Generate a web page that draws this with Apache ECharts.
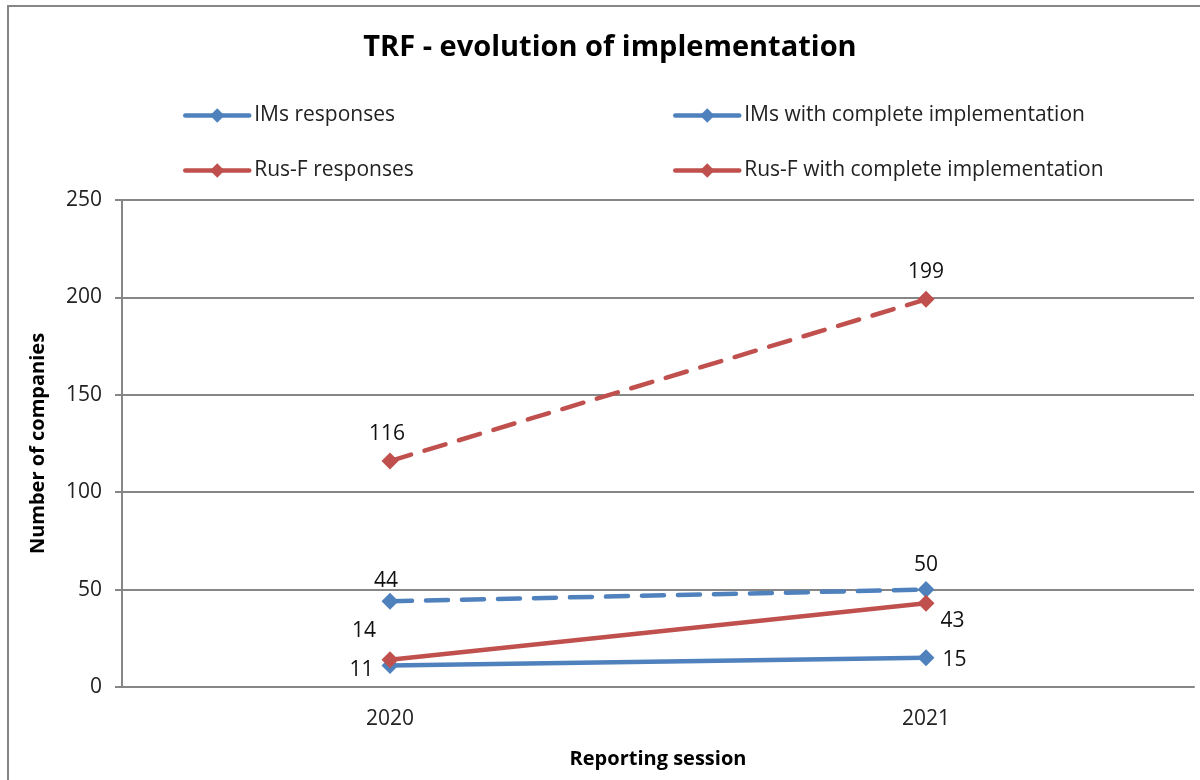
<!DOCTYPE html>
<html>
<head>
<meta charset="utf-8">
<script src="https://cdn.jsdelivr.net/npm/echarts@6/dist/echarts.min.js"></script>
<style>
  html, body { margin: 0; padding: 0; background: #fff; }
  #main { width: 1200px; height: 780px; }
</style>
</head>
<body>
<div id="main"></div>
<script>
// data
const sessions = ["2020", "2021"];
const imsResponses = [44, 50];
const imsComplete = [11, 15];
const rusResponses = [116, 199];
const rusComplete = [14, 43];
const yTicks = { min: 0, max: 250, interval: 50 };

const BLUE = "#4F81BD";
const RED = "#C0504D";
const FONT = "Open Sans";

let chart = echarts.init(document.getElementById("main"));

// per-point label placement like the original
const labelPlaces = [
    [{ position: "top", distance: 1, offset: [-4, 0] }, { position: "top", distance: 6 }],
    [{ position: "left", distance: 8, offset: [0, 4] }, { position: "right", distance: 8, offset: [0, 2] }],
    [{ position: "top", distance: 8, offset: [-3, 0] }, { position: "top", distance: 8 }],
    [{ position: "top", distance: 10, offset: [-26, 0] }, { position: "right", distance: 6, offset: [0, 18] }]
];

function lineSeries(name, data, color, dashed, places) {
    return {
        name: name,
        type: "line",
        data: data.map((v, j) => ({ value: v, label: places[j] })),
        symbol: "diamond",
        symbolSize: 17,
        lineStyle: { color: color, width: 4.5, type: dashed ? [22, 14] : "solid", cap: "round" },
        itemStyle: { color: color },
        label: {
            show: true,
            fontFamily: FONT,
            fontSize: 21,
            color: "#111"
        }
    };
}

const legendBase = {
    orient: "vertical",
    top: 100,
    itemGap: 34,
    itemWidth: 64,
    itemHeight: 18,
    lineStyle: { width: 4.5, type: "solid" },
    textStyle: { fontFamily: FONT, fontSize: 21, color: "#222" }
};

chart.setOption({
    animation: false,
    backgroundColor: "#fff",
    title: {
        text: "TRF - evolution of implementation",
        left: 605,
        top: 28,
        textAlign: "center",
        textStyle: { fontFamily: FONT, fontSize: 29, fontWeight: "bold", color: "#000" }
    },
    legend: [
        Object.assign({ data: ["IMs responses", "Rus-F responses"], left: 178 }, legendBase),
        Object.assign({ data: ["IMs with complete implementation", "Rus-F with complete implementation"], left: 668 }, legendBase)
    ],
    grid: { left: 122, right: 6, top: 200, bottom: 93, containLabel: false },
    xAxis: {
        type: "category",
        data: sessions,
        name: "Reporting session",
        nameLocation: "middle",
        nameGap: 62,
        nameTextStyle: { fontFamily: FONT, fontSize: 20, fontWeight: "bold", color: "#000" },
        axisLine: { lineStyle: { color: "#868686", width: 2 } },
        axisTick: { show: false },
        axisLabel: { fontFamily: FONT, fontSize: 21, color: "#222", margin: 22 }
    },
    yAxis: {
        type: "value",
        min: yTicks.min,
        max: yTicks.max,
        interval: yTicks.interval,
        name: "Number of companies",
        nameLocation: "middle",
        nameGap: 74,
        nameTextStyle: { fontFamily: FONT, fontSize: 20, fontWeight: "bold", color: "#000" },
        axisLine: { show: true, lineStyle: { color: "#868686", width: 2 } },
        axisTick: { show: true, inside: false, length: 7, lineStyle: { color: "#868686", width: 2 } },
        axisLabel: { fontFamily: FONT, fontSize: 21, color: "#222", margin: 20 },
        splitLine: { lineStyle: { color: "#868686", width: 2 } }
    },
    series: [
        lineSeries("IMs responses", imsResponses, BLUE, true, labelPlaces[0]),
        lineSeries("IMs with complete implementation", imsComplete, BLUE, false, labelPlaces[1]),
        lineSeries("Rus-F responses", rusResponses, RED, true, labelPlaces[2]),
        lineSeries("Rus-F with complete implementation", rusComplete, RED, false, labelPlaces[3])
    ],
    graphic: [
        {
            type: "rect",
            shape: { x: 8, y: 6, width: 1250, height: 800 },
            style: { fill: "none", stroke: "#868686", lineWidth: 2 },
            silent: true,
            z: -1
        }
    ]
});

window.addEventListener("resize", () => {
    chart.resize();
});
</script>
</body>
</html>
